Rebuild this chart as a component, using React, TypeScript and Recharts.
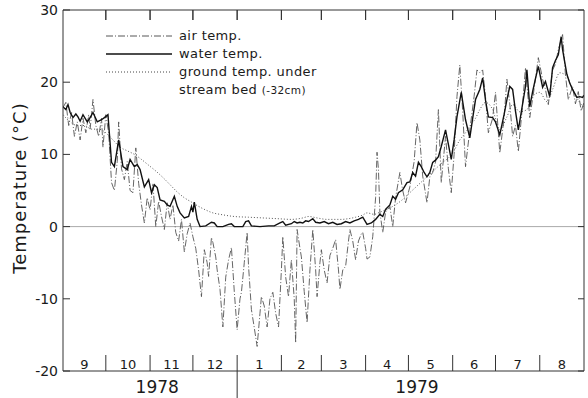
import React from 'react';
import { LineChart, Line, XAxis, YAxis, ReferenceLine, Legend } from 'recharts';

// Day index from 1 Sep 1978 (0) to 31 Aug 1979 (365)
const airDay = [0,2,4,6,8,10,12,14,16,18,19,21,23,25,27,28,30,32,34,36,38,39,41,43,45,47,49,51,53,55,57,59,61,63,65,67,69,71,73,75,77,79,81,83,85,87,89,91,93,95,97,99,101,102,104,105,107,108,110,112,114,116,118,120,122,124,125,127,129,130,132,134,136,138,139,141,143,145,147,149,151,153,154,156,158,160,162,163,164,166,167,169,171,173,175,177,178,180,181,183,185,187,189,191,193,194,196,198,200,201,203,205,207,209,210,212,213,215,217,219,220,221,222,224,226,229,231,233,236,238,240,243,246,248,250,252,255,257,259,261,263,265,268,270,272,274,276,278,280,282,285,288,290,292,294,296,298,301,303,306,309,311,313,315,317,319,322,324,327,330,333,336,338,340,343,345,347,350,352,354,357,359,361,363,365];
const airTemp = [16.5,17.2,14,15.8,12.5,14.5,12,15,13,15.5,13.5,17.6,14,12.5,15,11,15.5,13,6.1,5,9,14.5,8,6.5,9,5,4.7,10.9,6,3,0.5,4,2.3,6,0,3.5,1.4,-0.4,3.3,1,3,-0.8,-2,1,-3.5,-1,0.5,-1.4,-3,-6,-9.7,-3.2,-5,-6.9,-1.5,-2.2,-4.2,-6,-8.7,-13.9,-7,-4.6,-2.9,-9,-14.3,-10,-9.1,-5,-0.8,-5.5,-11.5,-14,-16.6,-12,-9.7,-11,-13.9,-10,-9.1,-12,-13.9,-6,-1.4,-7,-9.7,-4.6,-10,-16.1,-0.4,-3,-4.2,-9,-13.3,-6,-0.4,-6,-9.7,-5,-3.2,-6,-7.8,-4,-3,-1.8,-6,-8.7,-6,-5.5,-2,-0.4,-2,-4.6,-2,-1,-0.8,-3,-4.5,-4.2,-1.4,4,10.3,7.9,2,-0.8,2,2.8,0,4,7.5,5,3.3,5.5,9,14.4,12,7,3.3,6.9,7.5,8.9,16.2,6.1,12.5,8,4.7,10,18,22.4,16,8.3,13.4,18,21.7,21.3,21.7,18,13,15,18.6,10.2,15,20.4,17,12.5,14,10.4,17,22,15.1,19,23.4,20.4,19,16.9,21.7,22.5,24.5,26.6,21,17.6,19.4,17,18.7,16,17.2];

const waterDay = [0,2,3.5,5,7,9,10.5,12,14,17,19,21,24,27,29,31.5,34,36,39,42,45,47,50,52,54,57,60,62,64,66,68,71,73,75,78,80,82,85,88,90,91,92,94,96,100,104,106,108,112,116,118,120,126,128,130,132,138,144,148,152,154,156,160,162,164,166,168,170,172,175,177,180,183,186,189,192,195,198,201,204,207,210,213,216,219,222,224,226,229,231,233,235,238,241,243,245,247,249,251,253,255,257,259,261,263,265,268,270,272,274,276,279,282,285,287,289,292,294,296,298,301,303,306,309,311,313,315,317,319,322,324,325,327,329,331,333,336,338,341,343,345,347,349,350,353,355,357,360,362,364,365];
const waterTemp = [16.6,16.2,16.9,15.8,15.1,15.6,15.2,14.6,15.5,14.5,15.1,15.8,14.5,14.8,15.1,15.5,8.9,8.3,12.0,8.3,7.9,9.3,8.3,8.6,7.9,5.5,6.5,4.7,5.8,5.4,3.7,3.5,3.0,2.8,4.2,2.8,1.9,1.2,1.4,2.8,2.0,3.4,1.0,0,0.1,0.6,0.5,0,0,0.3,0.4,0,0,0.7,0.8,0.1,0,0.1,0.1,0.5,0.7,0.2,0.4,0.7,0.5,0.6,0.5,0.8,0.7,1.1,0.6,0.5,0.7,0.4,0.6,0.3,0.4,0.7,0.5,0.8,1.0,1.3,0.3,0.5,1.0,1.7,1.4,2.4,3.0,4.2,3.8,4.7,5.1,6.1,6.2,7.5,7.0,8.9,8.3,7.5,6.9,7.5,8.9,9.2,9.7,11.1,13.4,11.4,9.3,12,15.2,18.6,14.8,12.3,15,17.6,19.0,20.6,17.5,15.2,15.1,14.5,12.7,15.5,17.6,19.4,19.0,16,13.4,17,19.4,21.7,16.6,18.7,20.5,22.2,19.3,20.1,18.0,22.0,23,23.8,26.3,24.5,21.1,19.9,19.0,17.9,18.0,17.9,18.2];

const groundDay = [0,5,10,15,20,25,30,35,40,45,50,55,60,65,70,75,80,85,90,95,100,105,110,120,130,140,150,160,168,172,178,185,195,200,205,210,213,218,222,226,231,237,243,249,255,260,266,270,273,278,282,285,289,292,296,301,306,311,315,320,325,329,334,339,343,348,353,357,362,365];
const groundTemp = [15.5,14.5,14,14,13.5,13.5,13,12,11,10.5,10,9.3,8.5,7.7,6.8,5.8,4.8,4.0,3.4,2.8,2.3,1.9,1.7,1.4,1.3,1.2,1.1,1.0,1.2,1.4,1.2,1.0,1.0,1.1,1.3,1.6,1.9,1.7,2.0,2.3,2.8,3.6,4.7,5.8,6.9,7.8,8.9,9.5,10.2,12,13,13.9,15,16.2,17.2,16.2,13.4,15.2,16.9,15.9,16.2,18,18.6,17.3,19,21.3,20.8,19,17.2,16.5];

const monthBoundaries = [30,61,91,122,153,181,212,242,273,303,334];
const monthMid = [15,45.5,76,106.5,137.5,167,196.5,227,257.5,288,318.5,349.5];
const monthLabels = ['9','10','11','12','1','2','3','4','5','6','7','8'];
const yearPos = [66,248];
const yearLabels = ['1978','1979'];
const yearBoundary = 122;
const yTicks = [-20,-10,0,10,20,30];
const legendLabels = ['air temp.','water temp.','ground temp. under'];
const legendSecond = 'stream bed';
const legendSecondSmall = '(-32cm)';
const yTitle = 'Temperature (°C)';

const build = (days: number[], temps: number[]) => days.map((d, i) => ({ d, t: temps[i] }));
const airData = build(airDay, airTemp);
const waterData = build(waterDay, waterTemp);
const groundData = build(groundDay, groundTemp);
const bottomTicks = [...monthBoundaries, ...monthMid, ...yearPos].sort((a, b) => a - b);

const FONT = '"DejaVu Sans", sans-serif';
const INK = '#1a1a1a';
const FRAME = '#333';
const PLOT_LEFT = 63;
const PLOT_RIGHT = 584;
const PLOT_TOP = 10;
const PLOT_BOTTOM = 371;

const LeftTick = (p: any) => (
  <g>
    <line x1={PLOT_LEFT} x2={PLOT_LEFT + 7} y1={p.y} y2={p.y} stroke={FRAME} strokeWidth={1} />
    <text x={PLOT_LEFT - 5} y={p.y} textAnchor="end" dominantBaseline="central" fontFamily={FONT} fontSize={14} fill={INK}>
      {p.payload.value}
    </text>
  </g>
);

const RightTick = (p: any) => (
  <line x1={PLOT_RIGHT - 6} x2={PLOT_RIGHT} y1={p.y} y2={p.y} stroke={FRAME} strokeWidth={1} />
);

const TopTick = (p: any) => (
  <line x1={p.x} x2={p.x} y1={PLOT_TOP} y2={PLOT_TOP + 10} stroke={FRAME} strokeWidth={1} />
);

const TopTickShape = (p: any) => {
  const top = Math.min(p.y1, p.y2);
  return <line x1={p.x1} x2={p.x1} y1={top} y2={top + 10} stroke={FRAME} strokeWidth={1} />;
};

const BottomTick = (p: any) => {
  const v = p.payload.value;
  if (monthBoundaries.includes(v)) {
    return (
      <line x1={p.x} x2={p.x} y1={PLOT_BOTTOM - 16} y2={v === yearBoundary ? PLOT_BOTTOM + 27 : PLOT_BOTTOM}
        stroke={FRAME} strokeWidth={1} />
    );
  }
  if (yearPos.includes(v)) {
    return (
      <text x={p.x} y={PLOT_BOTTOM + 22} textAnchor="middle" fontFamily={FONT} fontSize={17} fill={INK}>
        {yearLabels[yearPos.indexOf(v)]}
      </text>
    );
  }
  return (
    <text x={p.x} y={PLOT_BOTTOM - 2} textAnchor="middle" fontFamily={FONT} fontSize={13} fill={INK}>
      {monthLabels[monthMid.indexOf(v)]}
    </text>
  );
};

const YTitle = () => (
  <text x={26} y={188} transform="rotate(-90 26 188)" textAnchor="middle" fontFamily={FONT} fontSize={18} letterSpacing={1} fill={INK}>
    {yTitle}
  </text>
);

// legend box placed at left 100, top 25
const LegendContent = () => (
  <svg width={250} height={75} style={{ display: 'block', overflow: 'visible' }}>
    <line x1={6} x2={72} y1={11} y2={11} stroke="#444" strokeWidth={0.9} strokeDasharray="7 2 1 2" />
    <line x1={6} x2={72} y1={29} y2={29} stroke="#111" strokeWidth={1.6} />
    <line x1={6} x2={72} y1={47} y2={47} stroke="#444" strokeWidth={1} strokeDasharray="1 2" />
    {legendLabels.map((l, i) => (
      <text key={l} x={79} y={15 + i * 18} fontFamily={FONT} fontSize={13} fill={INK} letterSpacing={0.4}>{l}</text>
    ))}
    <text x={79} y={69} fontFamily={FONT} fontSize={13} fill={INK} letterSpacing={0.4}>
      {legendSecond} <tspan fontSize={10.5}>{legendSecondSmall}</tspan>
    </text>
  </svg>
);

export default function App() {
  return (
    <div style={{ position: 'absolute', left: 0, top: 0, width: 588, height: 398, background: '#fff' }}>
      <LineChart width={588} height={398} margin={{ top: 9, right: 0, bottom: 26, left: 0 }}>
        <XAxis xAxisId="main" type="number" dataKey="d" domain={[0, 365]} ticks={bottomTicks} interval={0}
          orientation="bottom" height={1} tickSize={1} tickMargin={0} tick={<BottomTick />}
          axisLine={{ stroke: FRAME, strokeWidth: 1 }} tickLine={false} allowDataOverflow />
        <XAxis xAxisId="top" type="number" dataKey="d" domain={[0, 365]} ticks={monthBoundaries} interval={0}
          orientation="top" height={1} tickSize={1} tickMargin={0} tick={<TopTick />}
          axisLine={{ stroke: FRAME, strokeWidth: 1 }} tickLine={false} allowDataOverflow />
        <YAxis yAxisId="L" type="number" domain={[-20, 30]} ticks={yTicks} interval={0} width={63}
          tickSize={1} tickMargin={0} tick={<LeftTick />} axisLine={{ stroke: FRAME, strokeWidth: 1 }}
          tickLine={false} allowDataOverflow label={<YTitle />} />
        <YAxis yAxisId="R" orientation="right" type="number" domain={[-20, 30]} ticks={yTicks} interval={0} width={4}
          tickSize={1} tickMargin={0} tick={<RightTick />} axisLine={{ stroke: FRAME, strokeWidth: 1 }}
          tickLine={false} allowDataOverflow />
        <ReferenceLine xAxisId="main" yAxisId="L" y={0} stroke="#aaa" strokeWidth={1} />
        {monthBoundaries.map((b) => (
          <ReferenceLine key={b} xAxisId="main" yAxisId="L" x={b} shape={TopTickShape} />
        ))}
        <Legend layout="horizontal" verticalAlign="middle" align="center" content={<LegendContent />}
          wrapperStyle={{ left: 100, top: 25, width: 250, height: 75, pointerEvents: 'none' }} />
        <Line xAxisId="main" yAxisId="L" data={airData} dataKey="t" type="linear" stroke="#555" strokeWidth={0.9}
          strokeDasharray="7 2 1 2" dot={false} isAnimationActive={false} />
        <Line xAxisId="main" yAxisId="L" data={groundData} dataKey="t" type="monotone" stroke="#555" strokeWidth={1}
          strokeDasharray="1 2" dot={false} isAnimationActive={false} />
        <Line xAxisId="main" yAxisId="L" data={waterData} dataKey="t" type="linear" stroke="#111" strokeWidth={1.4}
          dot={false} isAnimationActive={false} />
      </LineChart>
    </div>
  );
}
